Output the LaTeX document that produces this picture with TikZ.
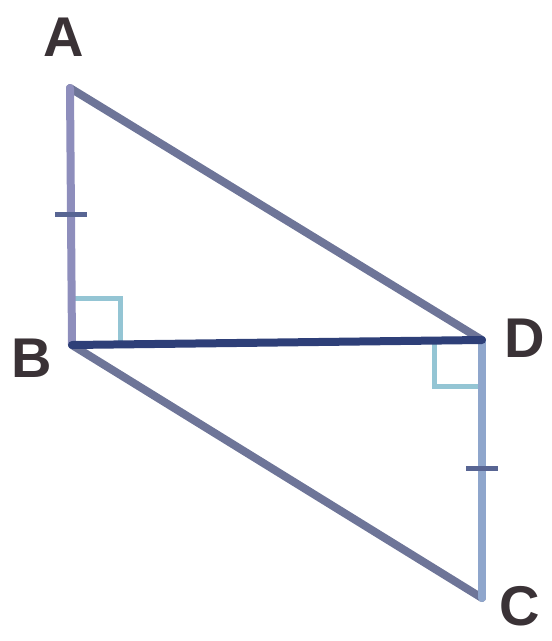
\documentclass[tikz,border=0pt]{standalone}
\usepackage{fontspec}
\setmainfont{Liberation Sans}
\definecolor{lineA}{HTML}{6E7598}
\definecolor{lineAB}{HTML}{8E8EBC}
\definecolor{lineBD}{HTML}{2E3F78}
\definecolor{lineDC}{HTML}{8FA6CC}
\definecolor{labelc}{HTML}{3A3236}
\begin{document}
\begin{tikzpicture}[x=1pt,y=-1pt,
  seg/.style={line width=8pt,color=lineA,line cap=round},
  tick/.style={line width=5pt,color=lineBD!80},
  rt/.style={line width=5pt,color=lineA!70!cyan!60},
  lbl/.style={font=\fontsize{56}{56}\selectfont\bfseries,text=labelc,inner sep=0pt}]
\useasboundingbox (0,0) rectangle (552,641);
\coordinate (A) at (70,88);
\coordinate (B) at (72,345);
\coordinate (D) at (482,340);
\coordinate (C) at (482,598);
\node[lbl] (lA) at (64,37) {A};
\node[lbl] (lB) at (32,358) {B};
\node[lbl] (lD) at (525,338) {D};
\node[lbl] (lC) at (520,606) {C};
% right angle marks
\draw[rt] (72,298) -- (120,298) -- (120,345);
\draw[rt] (434,340) -- (434,386) -- (482,386);
% sides
\draw[seg] (A) -- (D);
\draw[seg] (B) -- (C);
\draw[seg,color=lineAB] (A) -- (B);
\draw[seg,color=lineDC] (D) -- (C);
\draw[seg,color=lineBD] (B) -- (D);
% ticks
\coordinate (t1) at (71,214);
\coordinate (t2) at (482,468);
\draw[tick] ([xshift=-16pt]t1) -- ([xshift=16pt]t1);
\draw[tick] ([xshift=-16pt]t2) -- ([xshift=16pt]t2);
\end{tikzpicture}
\end{document}
